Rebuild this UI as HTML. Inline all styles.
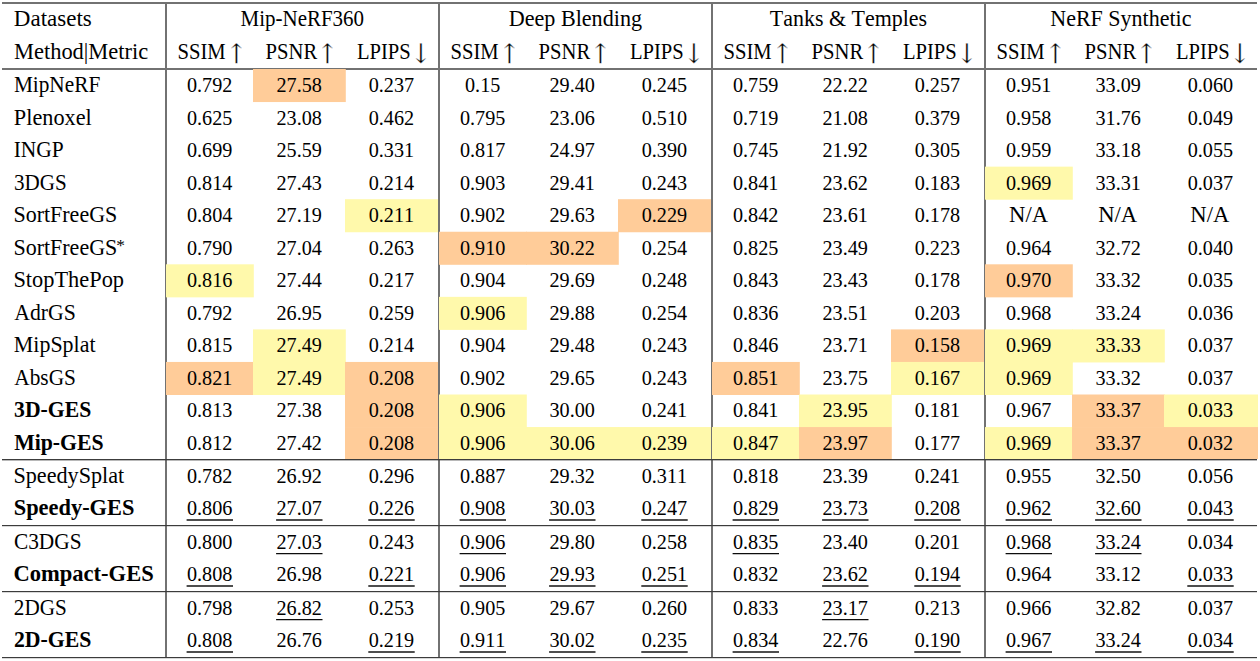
<!DOCTYPE html>
<html lang="en"><head><meta charset="utf-8"><title>Quantitative comparison table</title>
<style>
html,body{margin:0;padding:0;background:#fff;}
body{width:1260px;height:661px;overflow:hidden;}
svg{display:block;position:absolute;left:0;top:0;}
text{font-family:"Liberation Serif",serif;fill:#000;}
.t{font-size:22.3px;}
.n{font-size:20.7px;}
.b{font-size:22.3px;font-weight:bold;}
.h{font-size:22.3px;text-anchor:middle;}
.a{font-family:"DejaVu Math TeX Gyre","Liberation Serif",serif;font-size:24px;text-anchor:middle;stroke:#fff;stroke-width:0.3px;paint-order:fill stroke;}
text{font-kerning:none;}
</style></head><body>
<svg width="1260" height="661" viewBox="0 0 1260 661">
<rect x="0" y="0" width="1260" height="661" fill="#ffffff"/>
<g fill="#727272">
<rect x="2" y="2" width="1255" height="2"/>
<rect x="2" y="68" width="1255" height="2"/>
<rect x="165" y="3" width="2" height="655"/>
<rect x="438" y="3" width="2" height="655"/>
<rect x="711" y="3" width="2" height="655"/>
<rect x="984" y="3" width="2" height="655"/>
</g>
<g fill="#3c3c3c">
<rect x="2" y="459" width="1255" height="1.2"/>
<rect x="2" y="525" width="1255" height="1.2"/>
<rect x="2" y="591" width="1255" height="1.2"/>
<rect x="2" y="657" width="1255" height="1.2"/>
</g>
<g>
<rect x="253" y="69" width="92.8" height="33.05" fill="#ffcc99"/>
<rect x="345" y="199.2" width="93" height="33.05" fill="#fff9ab"/>
<rect x="166" y="264.3" width="87.8" height="33.05" fill="#fff9ab"/>
<rect x="253" y="329.4" width="92.8" height="33.05" fill="#fff9ab"/>
<rect x="166" y="361.95" width="87.8" height="33.05" fill="#ffcc99"/>
<rect x="253" y="361.95" width="92.8" height="33.05" fill="#fff9ab"/>
<rect x="345" y="361.95" width="93" height="33.05" fill="#ffcc99"/>
<rect x="345" y="394.5" width="93" height="33.05" fill="#ffcc99"/>
<rect x="345" y="427.05" width="93" height="31.95" fill="#ffcc99"/>
<rect x="618" y="199.2" width="93" height="33.05" fill="#ffcc99"/>
<rect x="439" y="231.75" width="87.8" height="33.05" fill="#ffcc99"/>
<rect x="526" y="231.75" width="92.8" height="33.05" fill="#ffcc99"/>
<rect x="439" y="296.85" width="87.8" height="33.05" fill="#fff9ab"/>
<rect x="439" y="394.5" width="87.8" height="33.05" fill="#fff9ab"/>
<rect x="439" y="427.05" width="87.8" height="31.95" fill="#fff9ab"/>
<rect x="526" y="427.05" width="92.8" height="31.95" fill="#fff9ab"/>
<rect x="618" y="427.05" width="93" height="31.95" fill="#fff9ab"/>
<rect x="891" y="329.4" width="93" height="33.05" fill="#ffcc99"/>
<rect x="712" y="361.95" width="87.8" height="33.05" fill="#ffcc99"/>
<rect x="891" y="361.95" width="93" height="33.05" fill="#fff9ab"/>
<rect x="799" y="394.5" width="92.8" height="33.05" fill="#fff9ab"/>
<rect x="712" y="427.05" width="87.8" height="31.95" fill="#fff9ab"/>
<rect x="799" y="427.05" width="92.8" height="31.95" fill="#ffcc99"/>
<rect x="985" y="166.65" width="87.8" height="33.05" fill="#fff9ab"/>
<rect x="985" y="264.3" width="87.8" height="33.05" fill="#ffcc99"/>
<rect x="985" y="329.4" width="87.8" height="33.05" fill="#fff9ab"/>
<rect x="1072" y="329.4" width="92.8" height="33.05" fill="#fff9ab"/>
<rect x="985" y="361.95" width="87.8" height="33.05" fill="#fff9ab"/>
<rect x="1072" y="394.5" width="92.8" height="33.05" fill="#ffcc99"/>
<rect x="1164" y="394.5" width="94" height="33.05" fill="#fff9ab"/>
<rect x="985" y="427.05" width="87.8" height="31.95" fill="#fff9ab"/>
<rect x="1072" y="427.05" width="92.8" height="31.95" fill="#ffcc99"/>
<rect x="1164" y="427.05" width="94" height="31.95" fill="#ffcc99"/>
</g>
<rect x="2" y="459" width="1255" height="1.2" fill="#3c3c3c"/>
<text class="t" x="13.84" y="26.00" textLength="78.00" lengthAdjust="spacingAndGlyphs">Datasets</text>
<text class="t" x="13.95" y="59.00" textLength="134.34" lengthAdjust="spacingAndGlyphs">Method|Metric</text>
<text class="t" x="240.50" y="26.00" textLength="123.60" lengthAdjust="spacingAndGlyphs">Mip-NeRF360</text>
<text class="t" x="508.66" y="26.00" textLength="133.36" lengthAdjust="spacingAndGlyphs">Deep Blending</text>
<text class="t" x="769.80" y="26.00" textLength="157.29" lengthAdjust="spacingAndGlyphs">Tanks &amp; Temples</text>
<text class="t" x="1050.27" y="26.00" textLength="141.21" lengthAdjust="spacingAndGlyphs">NeRF Synthetic</text>
<text class="t" x="177.52" y="59.00" textLength="48.19" lengthAdjust="spacingAndGlyphs">SSIM</text>
<text class="a" x="236.20" y="60.00">↑</text>
<text class="t" x="265.61" y="59.00" textLength="51.62" lengthAdjust="spacingAndGlyphs">PSNR</text>
<text class="a" x="327.40" y="60.00">↑</text>
<text class="t" x="356.91" y="59.00" textLength="53.77" lengthAdjust="spacingAndGlyphs">LPIPS</text>
<text class="a" x="420.90" y="60.00">↓</text>
<text class="t" x="450.52" y="59.00" textLength="48.19" lengthAdjust="spacingAndGlyphs">SSIM</text>
<text class="a" x="509.20" y="60.00">↑</text>
<text class="t" x="538.61" y="59.00" textLength="51.62" lengthAdjust="spacingAndGlyphs">PSNR</text>
<text class="a" x="600.40" y="60.00">↑</text>
<text class="t" x="629.91" y="59.00" textLength="53.77" lengthAdjust="spacingAndGlyphs">LPIPS</text>
<text class="a" x="693.90" y="60.00">↓</text>
<text class="t" x="723.52" y="59.00" textLength="48.19" lengthAdjust="spacingAndGlyphs">SSIM</text>
<text class="a" x="782.20" y="60.00">↑</text>
<text class="t" x="811.61" y="59.00" textLength="51.62" lengthAdjust="spacingAndGlyphs">PSNR</text>
<text class="a" x="873.40" y="60.00">↑</text>
<text class="t" x="902.91" y="59.00" textLength="53.77" lengthAdjust="spacingAndGlyphs">LPIPS</text>
<text class="a" x="966.90" y="60.00">↓</text>
<text class="t" x="996.52" y="59.00" textLength="48.19" lengthAdjust="spacingAndGlyphs">SSIM</text>
<text class="a" x="1055.20" y="60.00">↑</text>
<text class="t" x="1084.61" y="59.00" textLength="51.62" lengthAdjust="spacingAndGlyphs">PSNR</text>
<text class="a" x="1146.40" y="60.00">↑</text>
<text class="t" x="1175.91" y="59.00" textLength="53.77" lengthAdjust="spacingAndGlyphs">LPIPS</text>
<text class="a" x="1239.90" y="60.00">↓</text>
<text class="t" x="13.89" y="92.00" textLength="86.38" lengthAdjust="spacingAndGlyphs">MipNeRF</text>
<text class="n" x="186.99" y="92.00" textLength="45.41" lengthAdjust="spacingAndGlyphs">0.792</text>
<text class="n" x="276.49" y="92.00" textLength="45.41" lengthAdjust="spacingAndGlyphs">27.58</text>
<text class="n" x="368.69" y="92.00" textLength="45.41" lengthAdjust="spacingAndGlyphs">0.237</text>
<text class="n" x="465.04" y="92.00" textLength="35.32" lengthAdjust="spacingAndGlyphs">0.15</text>
<text class="n" x="549.49" y="92.00" textLength="45.41" lengthAdjust="spacingAndGlyphs">29.40</text>
<text class="n" x="641.69" y="92.00" textLength="45.41" lengthAdjust="spacingAndGlyphs">0.245</text>
<text class="n" x="732.99" y="92.00" textLength="45.41" lengthAdjust="spacingAndGlyphs">0.759</text>
<text class="n" x="822.49" y="92.00" textLength="45.41" lengthAdjust="spacingAndGlyphs">22.22</text>
<text class="n" x="914.69" y="92.00" textLength="45.41" lengthAdjust="spacingAndGlyphs">0.257</text>
<text class="n" x="1005.99" y="92.00" textLength="45.41" lengthAdjust="spacingAndGlyphs">0.951</text>
<text class="n" x="1095.49" y="92.00" textLength="45.41" lengthAdjust="spacingAndGlyphs">33.09</text>
<text class="n" x="1187.69" y="92.00" textLength="45.41" lengthAdjust="spacingAndGlyphs">0.060</text>
<text class="t" x="13.86" y="125.00" textLength="77.89" lengthAdjust="spacingAndGlyphs">Plenoxel</text>
<text class="n" x="186.99" y="125.00" textLength="45.41" lengthAdjust="spacingAndGlyphs">0.625</text>
<text class="n" x="276.49" y="125.00" textLength="45.41" lengthAdjust="spacingAndGlyphs">23.08</text>
<text class="n" x="368.69" y="125.00" textLength="45.41" lengthAdjust="spacingAndGlyphs">0.462</text>
<text class="n" x="459.99" y="125.00" textLength="45.41" lengthAdjust="spacingAndGlyphs">0.795</text>
<text class="n" x="549.49" y="125.00" textLength="45.41" lengthAdjust="spacingAndGlyphs">23.06</text>
<text class="n" x="641.69" y="125.00" textLength="45.41" lengthAdjust="spacingAndGlyphs">0.510</text>
<text class="n" x="732.99" y="125.00" textLength="45.41" lengthAdjust="spacingAndGlyphs">0.719</text>
<text class="n" x="822.49" y="125.00" textLength="45.41" lengthAdjust="spacingAndGlyphs">21.08</text>
<text class="n" x="914.69" y="125.00" textLength="45.41" lengthAdjust="spacingAndGlyphs">0.379</text>
<text class="n" x="1005.99" y="125.00" textLength="45.41" lengthAdjust="spacingAndGlyphs">0.958</text>
<text class="n" x="1095.49" y="125.00" textLength="45.41" lengthAdjust="spacingAndGlyphs">31.76</text>
<text class="n" x="1187.69" y="125.00" textLength="45.41" lengthAdjust="spacingAndGlyphs">0.049</text>
<text class="t" x="13.73" y="157.00" textLength="50.03" lengthAdjust="spacingAndGlyphs">INGP</text>
<text class="n" x="186.99" y="157.00" textLength="45.41" lengthAdjust="spacingAndGlyphs">0.699</text>
<text class="n" x="276.49" y="157.00" textLength="45.41" lengthAdjust="spacingAndGlyphs">25.59</text>
<text class="n" x="368.69" y="157.00" textLength="45.41" lengthAdjust="spacingAndGlyphs">0.331</text>
<text class="n" x="459.99" y="157.00" textLength="45.41" lengthAdjust="spacingAndGlyphs">0.817</text>
<text class="n" x="549.49" y="157.00" textLength="45.41" lengthAdjust="spacingAndGlyphs">24.97</text>
<text class="n" x="641.69" y="157.00" textLength="45.41" lengthAdjust="spacingAndGlyphs">0.390</text>
<text class="n" x="732.99" y="157.00" textLength="45.41" lengthAdjust="spacingAndGlyphs">0.745</text>
<text class="n" x="822.49" y="157.00" textLength="45.41" lengthAdjust="spacingAndGlyphs">21.92</text>
<text class="n" x="914.69" y="157.00" textLength="45.41" lengthAdjust="spacingAndGlyphs">0.305</text>
<text class="n" x="1005.99" y="157.00" textLength="45.41" lengthAdjust="spacingAndGlyphs">0.959</text>
<text class="n" x="1095.49" y="157.00" textLength="45.41" lengthAdjust="spacingAndGlyphs">33.18</text>
<text class="n" x="1187.69" y="157.00" textLength="45.41" lengthAdjust="spacingAndGlyphs">0.055</text>
<text class="t" x="13.99" y="190.00" textLength="52.72" lengthAdjust="spacingAndGlyphs">3DGS</text>
<text class="n" x="186.99" y="190.00" textLength="45.41" lengthAdjust="spacingAndGlyphs">0.814</text>
<text class="n" x="276.49" y="190.00" textLength="45.41" lengthAdjust="spacingAndGlyphs">27.43</text>
<text class="n" x="368.69" y="190.00" textLength="45.41" lengthAdjust="spacingAndGlyphs">0.214</text>
<text class="n" x="459.99" y="190.00" textLength="45.41" lengthAdjust="spacingAndGlyphs">0.903</text>
<text class="n" x="549.49" y="190.00" textLength="45.41" lengthAdjust="spacingAndGlyphs">29.41</text>
<text class="n" x="641.69" y="190.00" textLength="45.41" lengthAdjust="spacingAndGlyphs">0.243</text>
<text class="n" x="732.99" y="190.00" textLength="45.41" lengthAdjust="spacingAndGlyphs">0.841</text>
<text class="n" x="822.49" y="190.00" textLength="45.41" lengthAdjust="spacingAndGlyphs">23.62</text>
<text class="n" x="914.69" y="190.00" textLength="45.41" lengthAdjust="spacingAndGlyphs">0.183</text>
<text class="n" x="1005.99" y="190.00" textLength="45.41" lengthAdjust="spacingAndGlyphs">0.969</text>
<text class="n" x="1095.49" y="190.00" textLength="45.41" lengthAdjust="spacingAndGlyphs">33.31</text>
<text class="n" x="1187.69" y="190.00" textLength="45.41" lengthAdjust="spacingAndGlyphs">0.037</text>
<text class="t" x="13.43" y="222.00" textLength="103.83" lengthAdjust="spacingAndGlyphs">SortFreeGS</text>
<text class="n" x="186.99" y="222.00" textLength="45.41" lengthAdjust="spacingAndGlyphs">0.804</text>
<text class="n" x="276.49" y="222.00" textLength="45.41" lengthAdjust="spacingAndGlyphs">27.19</text>
<text class="n" x="368.69" y="222.00" textLength="45.41" lengthAdjust="spacingAndGlyphs">0.211</text>
<text class="n" x="459.99" y="222.00" textLength="45.41" lengthAdjust="spacingAndGlyphs">0.902</text>
<text class="n" x="549.49" y="222.00" textLength="45.41" lengthAdjust="spacingAndGlyphs">29.63</text>
<text class="n" x="641.69" y="222.00" textLength="45.41" lengthAdjust="spacingAndGlyphs">0.229</text>
<text class="n" x="732.99" y="222.00" textLength="45.41" lengthAdjust="spacingAndGlyphs">0.842</text>
<text class="n" x="822.49" y="222.00" textLength="45.41" lengthAdjust="spacingAndGlyphs">23.61</text>
<text class="n" x="914.69" y="222.00" textLength="45.41" lengthAdjust="spacingAndGlyphs">0.178</text>
<text class="t" x="1009.05" y="222.00" textLength="39.02" lengthAdjust="spacingAndGlyphs">N/A</text>
<text class="t" x="1098.15" y="222.00" textLength="39.02" lengthAdjust="spacingAndGlyphs">N/A</text>
<text class="t" x="1190.35" y="222.00" textLength="39.02" lengthAdjust="spacingAndGlyphs">N/A</text>
<text class="t" x="13.43" y="255.00" textLength="103.83" lengthAdjust="spacingAndGlyphs">SortFreeGS</text>
<text x="116.15" y="251.00" style="font-size:17.4px">*</text>
<text class="n" x="186.99" y="255.00" textLength="45.41" lengthAdjust="spacingAndGlyphs">0.790</text>
<text class="n" x="276.49" y="255.00" textLength="45.41" lengthAdjust="spacingAndGlyphs">27.04</text>
<text class="n" x="368.69" y="255.00" textLength="45.41" lengthAdjust="spacingAndGlyphs">0.263</text>
<text class="n" x="459.99" y="255.00" textLength="45.41" lengthAdjust="spacingAndGlyphs">0.910</text>
<text class="n" x="549.49" y="255.00" textLength="45.41" lengthAdjust="spacingAndGlyphs">30.22</text>
<text class="n" x="641.69" y="255.00" textLength="45.41" lengthAdjust="spacingAndGlyphs">0.254</text>
<text class="n" x="732.99" y="255.00" textLength="45.41" lengthAdjust="spacingAndGlyphs">0.825</text>
<text class="n" x="822.49" y="255.00" textLength="45.41" lengthAdjust="spacingAndGlyphs">23.49</text>
<text class="n" x="914.69" y="255.00" textLength="45.41" lengthAdjust="spacingAndGlyphs">0.223</text>
<text class="n" x="1005.99" y="255.00" textLength="45.41" lengthAdjust="spacingAndGlyphs">0.964</text>
<text class="n" x="1095.49" y="255.00" textLength="45.41" lengthAdjust="spacingAndGlyphs">32.72</text>
<text class="n" x="1187.69" y="255.00" textLength="45.41" lengthAdjust="spacingAndGlyphs">0.040</text>
<text class="t" x="13.40" y="287.00" textLength="110.67" lengthAdjust="spacingAndGlyphs">StopThePop</text>
<text class="n" x="186.99" y="287.00" textLength="45.41" lengthAdjust="spacingAndGlyphs">0.816</text>
<text class="n" x="276.49" y="287.00" textLength="45.41" lengthAdjust="spacingAndGlyphs">27.44</text>
<text class="n" x="368.69" y="287.00" textLength="45.41" lengthAdjust="spacingAndGlyphs">0.217</text>
<text class="n" x="459.99" y="287.00" textLength="45.41" lengthAdjust="spacingAndGlyphs">0.904</text>
<text class="n" x="549.49" y="287.00" textLength="45.41" lengthAdjust="spacingAndGlyphs">29.69</text>
<text class="n" x="641.69" y="287.00" textLength="45.41" lengthAdjust="spacingAndGlyphs">0.248</text>
<text class="n" x="732.99" y="287.00" textLength="45.41" lengthAdjust="spacingAndGlyphs">0.843</text>
<text class="n" x="822.49" y="287.00" textLength="45.41" lengthAdjust="spacingAndGlyphs">23.43</text>
<text class="n" x="914.69" y="287.00" textLength="45.41" lengthAdjust="spacingAndGlyphs">0.178</text>
<text class="n" x="1005.99" y="287.00" textLength="45.41" lengthAdjust="spacingAndGlyphs">0.970</text>
<text class="n" x="1095.49" y="287.00" textLength="45.41" lengthAdjust="spacingAndGlyphs">33.32</text>
<text class="n" x="1187.69" y="287.00" textLength="45.41" lengthAdjust="spacingAndGlyphs">0.035</text>
<text class="t" x="14.29" y="320.00" textLength="61.66" lengthAdjust="spacingAndGlyphs">AdrGS</text>
<text class="n" x="186.99" y="320.00" textLength="45.41" lengthAdjust="spacingAndGlyphs">0.792</text>
<text class="n" x="276.49" y="320.00" textLength="45.41" lengthAdjust="spacingAndGlyphs">26.95</text>
<text class="n" x="368.69" y="320.00" textLength="45.41" lengthAdjust="spacingAndGlyphs">0.259</text>
<text class="n" x="459.99" y="320.00" textLength="45.41" lengthAdjust="spacingAndGlyphs">0.906</text>
<text class="n" x="549.49" y="320.00" textLength="45.41" lengthAdjust="spacingAndGlyphs">29.88</text>
<text class="n" x="641.69" y="320.00" textLength="45.41" lengthAdjust="spacingAndGlyphs">0.254</text>
<text class="n" x="732.99" y="320.00" textLength="45.41" lengthAdjust="spacingAndGlyphs">0.836</text>
<text class="n" x="822.49" y="320.00" textLength="45.41" lengthAdjust="spacingAndGlyphs">23.51</text>
<text class="n" x="914.69" y="320.00" textLength="45.41" lengthAdjust="spacingAndGlyphs">0.203</text>
<text class="n" x="1005.99" y="320.00" textLength="45.41" lengthAdjust="spacingAndGlyphs">0.968</text>
<text class="n" x="1095.49" y="320.00" textLength="45.41" lengthAdjust="spacingAndGlyphs">33.24</text>
<text class="n" x="1187.69" y="320.00" textLength="45.41" lengthAdjust="spacingAndGlyphs">0.036</text>
<text class="t" x="13.87" y="352.00" textLength="81.66" lengthAdjust="spacingAndGlyphs">MipSplat</text>
<text class="n" x="186.99" y="352.00" textLength="45.41" lengthAdjust="spacingAndGlyphs">0.815</text>
<text class="n" x="276.49" y="352.00" textLength="45.41" lengthAdjust="spacingAndGlyphs">27.49</text>
<text class="n" x="368.69" y="352.00" textLength="45.41" lengthAdjust="spacingAndGlyphs">0.214</text>
<text class="n" x="459.99" y="352.00" textLength="45.41" lengthAdjust="spacingAndGlyphs">0.904</text>
<text class="n" x="549.49" y="352.00" textLength="45.41" lengthAdjust="spacingAndGlyphs">29.48</text>
<text class="n" x="641.69" y="352.00" textLength="45.41" lengthAdjust="spacingAndGlyphs">0.243</text>
<text class="n" x="732.99" y="352.00" textLength="45.41" lengthAdjust="spacingAndGlyphs">0.846</text>
<text class="n" x="822.49" y="352.00" textLength="45.41" lengthAdjust="spacingAndGlyphs">23.71</text>
<text class="n" x="914.69" y="352.00" textLength="45.41" lengthAdjust="spacingAndGlyphs">0.158</text>
<text class="n" x="1005.99" y="352.00" textLength="45.41" lengthAdjust="spacingAndGlyphs">0.969</text>
<text class="n" x="1095.49" y="352.00" textLength="45.41" lengthAdjust="spacingAndGlyphs">33.33</text>
<text class="n" x="1187.69" y="352.00" textLength="45.41" lengthAdjust="spacingAndGlyphs">0.037</text>
<text class="t" x="14.29" y="385.00" textLength="61.63" lengthAdjust="spacingAndGlyphs">AbsGS</text>
<text class="n" x="186.99" y="385.00" textLength="45.41" lengthAdjust="spacingAndGlyphs">0.821</text>
<text class="n" x="276.49" y="385.00" textLength="45.41" lengthAdjust="spacingAndGlyphs">27.49</text>
<text class="n" x="368.69" y="385.00" textLength="45.41" lengthAdjust="spacingAndGlyphs">0.208</text>
<text class="n" x="459.99" y="385.00" textLength="45.41" lengthAdjust="spacingAndGlyphs">0.902</text>
<text class="n" x="549.49" y="385.00" textLength="45.41" lengthAdjust="spacingAndGlyphs">29.65</text>
<text class="n" x="641.69" y="385.00" textLength="45.41" lengthAdjust="spacingAndGlyphs">0.243</text>
<text class="n" x="732.99" y="385.00" textLength="45.41" lengthAdjust="spacingAndGlyphs">0.851</text>
<text class="n" x="822.49" y="385.00" textLength="45.41" lengthAdjust="spacingAndGlyphs">23.75</text>
<text class="n" x="914.69" y="385.00" textLength="45.41" lengthAdjust="spacingAndGlyphs">0.167</text>
<text class="n" x="1005.99" y="385.00" textLength="45.41" lengthAdjust="spacingAndGlyphs">0.969</text>
<text class="n" x="1095.49" y="385.00" textLength="45.41" lengthAdjust="spacingAndGlyphs">33.32</text>
<text class="n" x="1187.69" y="385.00" textLength="45.41" lengthAdjust="spacingAndGlyphs">0.037</text>
<text class="b" x="14.08" y="417.00" textLength="77.14" lengthAdjust="spacingAndGlyphs">3D-GES</text>
<text class="n" x="186.99" y="417.00" textLength="45.41" lengthAdjust="spacingAndGlyphs">0.813</text>
<text class="n" x="276.49" y="417.00" textLength="45.41" lengthAdjust="spacingAndGlyphs">27.38</text>
<text class="n" x="368.69" y="417.00" textLength="45.41" lengthAdjust="spacingAndGlyphs">0.208</text>
<text class="n" x="459.99" y="417.00" textLength="45.41" lengthAdjust="spacingAndGlyphs">0.906</text>
<text class="n" x="549.49" y="417.00" textLength="45.41" lengthAdjust="spacingAndGlyphs">30.00</text>
<text class="n" x="641.69" y="417.00" textLength="45.41" lengthAdjust="spacingAndGlyphs">0.241</text>
<text class="n" x="732.99" y="417.00" textLength="45.41" lengthAdjust="spacingAndGlyphs">0.841</text>
<text class="n" x="822.49" y="417.00" textLength="45.41" lengthAdjust="spacingAndGlyphs">23.95</text>
<text class="n" x="914.69" y="417.00" textLength="45.41" lengthAdjust="spacingAndGlyphs">0.181</text>
<text class="n" x="1005.99" y="417.00" textLength="45.41" lengthAdjust="spacingAndGlyphs">0.967</text>
<text class="n" x="1095.49" y="417.00" textLength="45.41" lengthAdjust="spacingAndGlyphs">33.37</text>
<text class="n" x="1187.69" y="417.00" textLength="45.41" lengthAdjust="spacingAndGlyphs">0.033</text>
<text class="b" x="14.13" y="450.00" textLength="89.60" lengthAdjust="spacingAndGlyphs">Mip-GES</text>
<text class="n" x="186.99" y="450.00" textLength="45.41" lengthAdjust="spacingAndGlyphs">0.812</text>
<text class="n" x="276.49" y="450.00" textLength="45.41" lengthAdjust="spacingAndGlyphs">27.42</text>
<text class="n" x="368.69" y="450.00" textLength="45.41" lengthAdjust="spacingAndGlyphs">0.208</text>
<text class="n" x="459.99" y="450.00" textLength="45.41" lengthAdjust="spacingAndGlyphs">0.906</text>
<text class="n" x="549.49" y="450.00" textLength="45.41" lengthAdjust="spacingAndGlyphs">30.06</text>
<text class="n" x="641.69" y="450.00" textLength="45.41" lengthAdjust="spacingAndGlyphs">0.239</text>
<text class="n" x="732.99" y="450.00" textLength="45.41" lengthAdjust="spacingAndGlyphs">0.847</text>
<text class="n" x="822.49" y="450.00" textLength="45.41" lengthAdjust="spacingAndGlyphs">23.97</text>
<text class="n" x="914.69" y="450.00" textLength="45.41" lengthAdjust="spacingAndGlyphs">0.177</text>
<text class="n" x="1005.99" y="450.00" textLength="45.41" lengthAdjust="spacingAndGlyphs">0.969</text>
<text class="n" x="1095.49" y="450.00" textLength="45.41" lengthAdjust="spacingAndGlyphs">33.37</text>
<text class="n" x="1187.69" y="450.00" textLength="45.41" lengthAdjust="spacingAndGlyphs">0.032</text>
<text class="t" x="13.42" y="483.00" textLength="110.81" lengthAdjust="spacingAndGlyphs">SpeedySplat</text>
<text class="n" x="186.99" y="483.00" textLength="45.41" lengthAdjust="spacingAndGlyphs">0.782</text>
<text class="n" x="276.49" y="483.00" textLength="45.41" lengthAdjust="spacingAndGlyphs">26.92</text>
<text class="n" x="368.69" y="483.00" textLength="45.41" lengthAdjust="spacingAndGlyphs">0.296</text>
<text class="n" x="459.99" y="483.00" textLength="45.41" lengthAdjust="spacingAndGlyphs">0.887</text>
<text class="n" x="549.49" y="483.00" textLength="45.41" lengthAdjust="spacingAndGlyphs">29.32</text>
<text class="n" x="641.69" y="483.00" textLength="45.41" lengthAdjust="spacingAndGlyphs">0.311</text>
<text class="n" x="732.99" y="483.00" textLength="45.41" lengthAdjust="spacingAndGlyphs">0.818</text>
<text class="n" x="822.49" y="483.00" textLength="45.41" lengthAdjust="spacingAndGlyphs">23.39</text>
<text class="n" x="914.69" y="483.00" textLength="45.41" lengthAdjust="spacingAndGlyphs">0.241</text>
<text class="n" x="1005.99" y="483.00" textLength="45.41" lengthAdjust="spacingAndGlyphs">0.955</text>
<text class="n" x="1095.49" y="483.00" textLength="45.41" lengthAdjust="spacingAndGlyphs">32.50</text>
<text class="n" x="1187.69" y="483.00" textLength="45.41" lengthAdjust="spacingAndGlyphs">0.056</text>
<text class="b" x="13.71" y="515.00" textLength="120.74" lengthAdjust="spacingAndGlyphs">Speedy-GES</text>
<text class="n" x="186.99" y="515.00" textLength="45.41" lengthAdjust="spacingAndGlyphs">0.806</text>
<rect x="186.60" y="519" width="46.4" height="2" fill="#4e4e4e"/>
<text class="n" x="276.49" y="515.00" textLength="45.41" lengthAdjust="spacingAndGlyphs">27.07</text>
<rect x="276.10" y="519" width="46.4" height="2" fill="#4e4e4e"/>
<text class="n" x="368.69" y="515.00" textLength="45.41" lengthAdjust="spacingAndGlyphs">0.226</text>
<rect x="368.30" y="519" width="46.4" height="2" fill="#4e4e4e"/>
<text class="n" x="459.99" y="515.00" textLength="45.41" lengthAdjust="spacingAndGlyphs">0.908</text>
<rect x="459.60" y="519" width="46.4" height="2" fill="#4e4e4e"/>
<text class="n" x="549.49" y="515.00" textLength="45.41" lengthAdjust="spacingAndGlyphs">30.03</text>
<rect x="549.10" y="519" width="46.4" height="2" fill="#4e4e4e"/>
<text class="n" x="641.69" y="515.00" textLength="45.41" lengthAdjust="spacingAndGlyphs">0.247</text>
<rect x="641.30" y="519" width="46.4" height="2" fill="#4e4e4e"/>
<text class="n" x="732.99" y="515.00" textLength="45.41" lengthAdjust="spacingAndGlyphs">0.829</text>
<rect x="732.60" y="519" width="46.4" height="2" fill="#4e4e4e"/>
<text class="n" x="822.49" y="515.00" textLength="45.41" lengthAdjust="spacingAndGlyphs">23.73</text>
<rect x="822.10" y="519" width="46.4" height="2" fill="#4e4e4e"/>
<text class="n" x="914.69" y="515.00" textLength="45.41" lengthAdjust="spacingAndGlyphs">0.208</text>
<rect x="914.30" y="519" width="46.4" height="2" fill="#4e4e4e"/>
<text class="n" x="1005.99" y="515.00" textLength="45.41" lengthAdjust="spacingAndGlyphs">0.962</text>
<rect x="1005.60" y="519" width="46.4" height="2" fill="#4e4e4e"/>
<text class="n" x="1095.49" y="515.00" textLength="45.41" lengthAdjust="spacingAndGlyphs">32.60</text>
<rect x="1095.10" y="519" width="46.4" height="2" fill="#4e4e4e"/>
<text class="n" x="1187.69" y="515.00" textLength="45.41" lengthAdjust="spacingAndGlyphs">0.043</text>
<rect x="1187.30" y="519" width="46.4" height="2" fill="#4e4e4e"/>
<text class="t" x="13.92" y="549.00" textLength="67.60" lengthAdjust="spacingAndGlyphs">C3DGS</text>
<text class="n" x="186.99" y="549.00" textLength="45.41" lengthAdjust="spacingAndGlyphs">0.800</text>
<text class="n" x="276.49" y="549.00" textLength="45.41" lengthAdjust="spacingAndGlyphs">27.03</text>
<rect x="276.10" y="553" width="46.4" height="1.25" fill="#0c0c0c"/>
<text class="n" x="368.69" y="549.00" textLength="45.41" lengthAdjust="spacingAndGlyphs">0.243</text>
<text class="n" x="459.99" y="549.00" textLength="45.41" lengthAdjust="spacingAndGlyphs">0.906</text>
<rect x="459.60" y="553" width="46.4" height="1.25" fill="#0c0c0c"/>
<text class="n" x="549.49" y="549.00" textLength="45.41" lengthAdjust="spacingAndGlyphs">29.80</text>
<text class="n" x="641.69" y="549.00" textLength="45.41" lengthAdjust="spacingAndGlyphs">0.258</text>
<text class="n" x="732.99" y="549.00" textLength="45.41" lengthAdjust="spacingAndGlyphs">0.835</text>
<rect x="732.60" y="553" width="46.4" height="1.25" fill="#0c0c0c"/>
<text class="n" x="822.49" y="549.00" textLength="45.41" lengthAdjust="spacingAndGlyphs">23.40</text>
<text class="n" x="914.69" y="549.00" textLength="45.41" lengthAdjust="spacingAndGlyphs">0.201</text>
<text class="n" x="1005.99" y="549.00" textLength="45.41" lengthAdjust="spacingAndGlyphs">0.968</text>
<rect x="1005.60" y="553" width="46.4" height="1.25" fill="#0c0c0c"/>
<text class="n" x="1095.49" y="549.00" textLength="45.41" lengthAdjust="spacingAndGlyphs">33.24</text>
<rect x="1095.10" y="553" width="46.4" height="1.25" fill="#0c0c0c"/>
<text class="n" x="1187.69" y="549.00" textLength="45.41" lengthAdjust="spacingAndGlyphs">0.034</text>
<text class="b" x="13.40" y="581.00" textLength="140.36" lengthAdjust="spacingAndGlyphs">Compact-GES</text>
<text class="n" x="186.99" y="581.00" textLength="45.41" lengthAdjust="spacingAndGlyphs">0.808</text>
<rect x="186.60" y="585" width="46.4" height="2" fill="#4e4e4e"/>
<text class="n" x="276.49" y="581.00" textLength="45.41" lengthAdjust="spacingAndGlyphs">26.98</text>
<text class="n" x="368.69" y="581.00" textLength="45.41" lengthAdjust="spacingAndGlyphs">0.221</text>
<rect x="368.30" y="585" width="46.4" height="2" fill="#4e4e4e"/>
<text class="n" x="459.99" y="581.00" textLength="45.41" lengthAdjust="spacingAndGlyphs">0.906</text>
<rect x="459.60" y="585" width="46.4" height="2" fill="#4e4e4e"/>
<text class="n" x="549.49" y="581.00" textLength="45.41" lengthAdjust="spacingAndGlyphs">29.93</text>
<rect x="549.10" y="585" width="46.4" height="2" fill="#4e4e4e"/>
<text class="n" x="641.69" y="581.00" textLength="45.41" lengthAdjust="spacingAndGlyphs">0.251</text>
<rect x="641.30" y="585" width="46.4" height="2" fill="#4e4e4e"/>
<text class="n" x="732.99" y="581.00" textLength="45.41" lengthAdjust="spacingAndGlyphs">0.832</text>
<text class="n" x="822.49" y="581.00" textLength="45.41" lengthAdjust="spacingAndGlyphs">23.62</text>
<rect x="822.10" y="585" width="46.4" height="2" fill="#4e4e4e"/>
<text class="n" x="914.69" y="581.00" textLength="45.41" lengthAdjust="spacingAndGlyphs">0.194</text>
<rect x="914.30" y="585" width="46.4" height="2" fill="#4e4e4e"/>
<text class="n" x="1005.99" y="581.00" textLength="45.41" lengthAdjust="spacingAndGlyphs">0.964</text>
<text class="n" x="1095.49" y="581.00" textLength="45.41" lengthAdjust="spacingAndGlyphs">33.12</text>
<text class="n" x="1187.69" y="581.00" textLength="45.41" lengthAdjust="spacingAndGlyphs">0.033</text>
<rect x="1187.30" y="585" width="46.4" height="2" fill="#4e4e4e"/>
<text class="t" x="13.87" y="615.00" textLength="52.94" lengthAdjust="spacingAndGlyphs">2DGS</text>
<text class="n" x="186.99" y="615.00" textLength="45.41" lengthAdjust="spacingAndGlyphs">0.798</text>
<text class="n" x="276.49" y="615.00" textLength="45.41" lengthAdjust="spacingAndGlyphs">26.82</text>
<rect x="276.10" y="619" width="46.4" height="1.25" fill="#0c0c0c"/>
<text class="n" x="368.69" y="615.00" textLength="45.41" lengthAdjust="spacingAndGlyphs">0.253</text>
<text class="n" x="459.99" y="615.00" textLength="45.41" lengthAdjust="spacingAndGlyphs">0.905</text>
<text class="n" x="549.49" y="615.00" textLength="45.41" lengthAdjust="spacingAndGlyphs">29.67</text>
<text class="n" x="641.69" y="615.00" textLength="45.41" lengthAdjust="spacingAndGlyphs">0.260</text>
<text class="n" x="732.99" y="615.00" textLength="45.41" lengthAdjust="spacingAndGlyphs">0.833</text>
<text class="n" x="822.49" y="615.00" textLength="45.41" lengthAdjust="spacingAndGlyphs">23.17</text>
<rect x="822.10" y="619" width="46.4" height="1.25" fill="#0c0c0c"/>
<text class="n" x="914.69" y="615.00" textLength="45.41" lengthAdjust="spacingAndGlyphs">0.213</text>
<text class="n" x="1005.99" y="615.00" textLength="45.41" lengthAdjust="spacingAndGlyphs">0.966</text>
<text class="n" x="1095.49" y="615.00" textLength="45.41" lengthAdjust="spacingAndGlyphs">32.82</text>
<text class="n" x="1187.69" y="615.00" textLength="45.41" lengthAdjust="spacingAndGlyphs">0.037</text>
<text class="b" x="13.88" y="647.00" textLength="77.54" lengthAdjust="spacingAndGlyphs">2D-GES</text>
<text class="n" x="186.99" y="647.00" textLength="45.41" lengthAdjust="spacingAndGlyphs">0.808</text>
<rect x="186.60" y="651" width="46.4" height="2" fill="#4e4e4e"/>
<text class="n" x="276.49" y="647.00" textLength="45.41" lengthAdjust="spacingAndGlyphs">26.76</text>
<text class="n" x="368.69" y="647.00" textLength="45.41" lengthAdjust="spacingAndGlyphs">0.219</text>
<rect x="368.30" y="651" width="46.4" height="2" fill="#4e4e4e"/>
<text class="n" x="459.99" y="647.00" textLength="45.41" lengthAdjust="spacingAndGlyphs">0.911</text>
<rect x="459.60" y="651" width="46.4" height="2" fill="#4e4e4e"/>
<text class="n" x="549.49" y="647.00" textLength="45.41" lengthAdjust="spacingAndGlyphs">30.02</text>
<rect x="549.10" y="651" width="46.4" height="2" fill="#4e4e4e"/>
<text class="n" x="641.69" y="647.00" textLength="45.41" lengthAdjust="spacingAndGlyphs">0.235</text>
<rect x="641.30" y="651" width="46.4" height="2" fill="#4e4e4e"/>
<text class="n" x="732.99" y="647.00" textLength="45.41" lengthAdjust="spacingAndGlyphs">0.834</text>
<rect x="732.60" y="651" width="46.4" height="2" fill="#4e4e4e"/>
<text class="n" x="822.49" y="647.00" textLength="45.41" lengthAdjust="spacingAndGlyphs">22.76</text>
<text class="n" x="914.69" y="647.00" textLength="45.41" lengthAdjust="spacingAndGlyphs">0.190</text>
<rect x="914.30" y="651" width="46.4" height="2" fill="#4e4e4e"/>
<text class="n" x="1005.99" y="647.00" textLength="45.41" lengthAdjust="spacingAndGlyphs">0.967</text>
<rect x="1005.60" y="651" width="46.4" height="2" fill="#4e4e4e"/>
<text class="n" x="1095.49" y="647.00" textLength="45.41" lengthAdjust="spacingAndGlyphs">33.24</text>
<rect x="1095.10" y="651" width="46.4" height="2" fill="#4e4e4e"/>
<text class="n" x="1187.69" y="647.00" textLength="45.41" lengthAdjust="spacingAndGlyphs">0.034</text>
<rect x="1187.30" y="651" width="46.4" height="2" fill="#4e4e4e"/>
</svg>
</body></html>
